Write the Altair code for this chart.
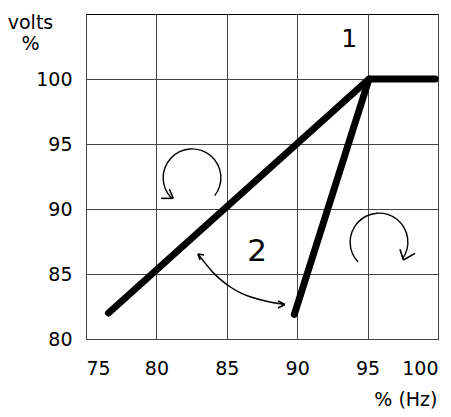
import altair as alt
import pandas as pd

# axis ticks
x_ticks = [75, 80, 85, 90, 95, 100]
y_ticks = [80, 85, 90, 95, 100]

# characteristic 1 and 2
c1_x = [76.6, 95.1, 99.8]
c1_y = [82, 100, 100]
c2_x = [89.8, 95.1]
c2_y = [81.9, 100]

# labels
lab_text = ["1", "2"]
lab_x = [93.7, 87.15]
lab_y = [103.1, 86.7]
lab_size = [25, 31]

# rotation arcs (centre, start/end angle in radians)
arc_x = [82.53, 95.81]
arc_y = [92.4, 87.46]
arc_t1 = [3.93, 3.95]
arc_t2 = [8.52, 8.47]

# double arrow curve
cv_x = [82.95, 83.45, 84.02, 84.66, 85.23, 85.94, 86.65, 87.71, 88.99, 89.13]
cv_y = [86.54, 85.85, 85.08, 84.46, 84.0, 83.54, 83.23, 82.92, 82.67, 82.65]

# arrow-head strokes: segment id, x, y
ah_seg = [0, 0, 1, 1, 2, 2, 3, 3, 4, 4, 5, 5, 6, 6, 7, 7]
ah_x = [82.95, 83.38, 82.95, 83.10, 89.13, 88.64, 89.13, 88.64,
        81.20, 80.92, 81.20, 80.33, 97.54, 97.30, 97.54, 98.37]
ah_y = [86.54, 86.46, 86.54, 86.08, 82.65, 82.92, 82.65, 82.38,
        90.82, 91.52, 90.82, 90.82, 86.08, 86.90, 86.08, 86.59]

xs = alt.Scale(domain=[75, 100], nice=False, zero=False)
ys = alt.Scale(domain=[80, 105], nice=False, zero=False)

xax = alt.Axis(values=x_ticks, title="% (Hz)", titleX=351, titleY=66,
               titleAlign="right", titleBaseline="alphabetic", titleAnchor="end",
               labelPadding=20, labelBaseline="top")
yax = alt.Axis(values=y_ticks, title=["volts", "%"], titleAngle=0, titleX=-56, titleY=-1,
               titleAlign="center", titleBaseline="top", titleLineHeight=21,
               labelPadding=14)

lines = pd.DataFrame({
    "x": c1_x + c2_x,
    "y": c1_y + c2_y,
    "s": ["1"] * len(c1_x) + ["2"] * len(c2_x),
    "o": list(range(len(c1_x))) + list(range(len(c2_x))),
})

base_line = alt.Chart(lines).mark_line(color="black", strokeWidth=7, strokeCap="round",
                                       strokeJoin="round").encode(
    x=alt.X("x:Q", scale=xs, axis=xax),
    y=alt.Y("y:Q", scale=ys, axis=yax),
    detail="s:N",
    order="o:Q",
)

labels = pd.DataFrame({"t": lab_text, "x": lab_x, "y": lab_y, "size": lab_size})
lab = alt.Chart(labels).mark_text(font="DejaVu Sans", color="black", baseline="middle",
                                  align="center").encode(
    x=alt.X("x:Q", scale=xs),
    y=alt.Y("y:Q", scale=ys),
    text="t:N",
    size=alt.Size("size:Q", scale=None, legend=None),
)

arcs = pd.DataFrame({"x": arc_x, "y": arc_y, "t1": arc_t1, "t2": arc_t2})
arc = alt.Chart(arcs).mark_arc(radius=29.6, radius2=28.2, color="black").encode(
    x=alt.X("x:Q", scale=xs),
    y=alt.Y("y:Q", scale=ys),
    theta=alt.Theta("t1:Q", scale=None),
    theta2="t2:Q",
)

curve = pd.DataFrame({"x": cv_x, "y": cv_y, "o": list(range(len(cv_x)))})
cv = alt.Chart(curve).mark_line(color="black", strokeWidth=1.5, interpolate="basis").encode(
    x=alt.X("x:Q", scale=xs),
    y=alt.Y("y:Q", scale=ys),
    order="o:Q",
)

heads = pd.DataFrame({"seg": ah_seg, "x": ah_x, "y": ah_y})
hd = alt.Chart(heads).mark_line(color="black", strokeWidth=1.6).encode(
    x=alt.X("x:Q", scale=xs),
    y=alt.Y("y:Q", scale=ys),
    detail="seg:N",
)

chart = alt.layer(base_line, arc, cv, hd, lab).properties(
    width=352, height=325,
    autosize=alt.AutoSizeParams(type="none"),
    padding={"left": 78, "top": 6, "right": 5, "bottom": 70},
).configure_view(stroke="black", strokeWidth=1).configure_axis(
    labelFont="DejaVu Sans", labelFontSize=19, labelColor="black",
    titleFont="DejaVu Sans", titleFontSize=19, titleColor="black", titleFontWeight="normal",
    tickSize=0, domain=False, gridColor="#444", gridOpacity=1, gridWidth=1,
)

chart.save("out.html", embed_options={"renderer": "svg", "actions": False})
